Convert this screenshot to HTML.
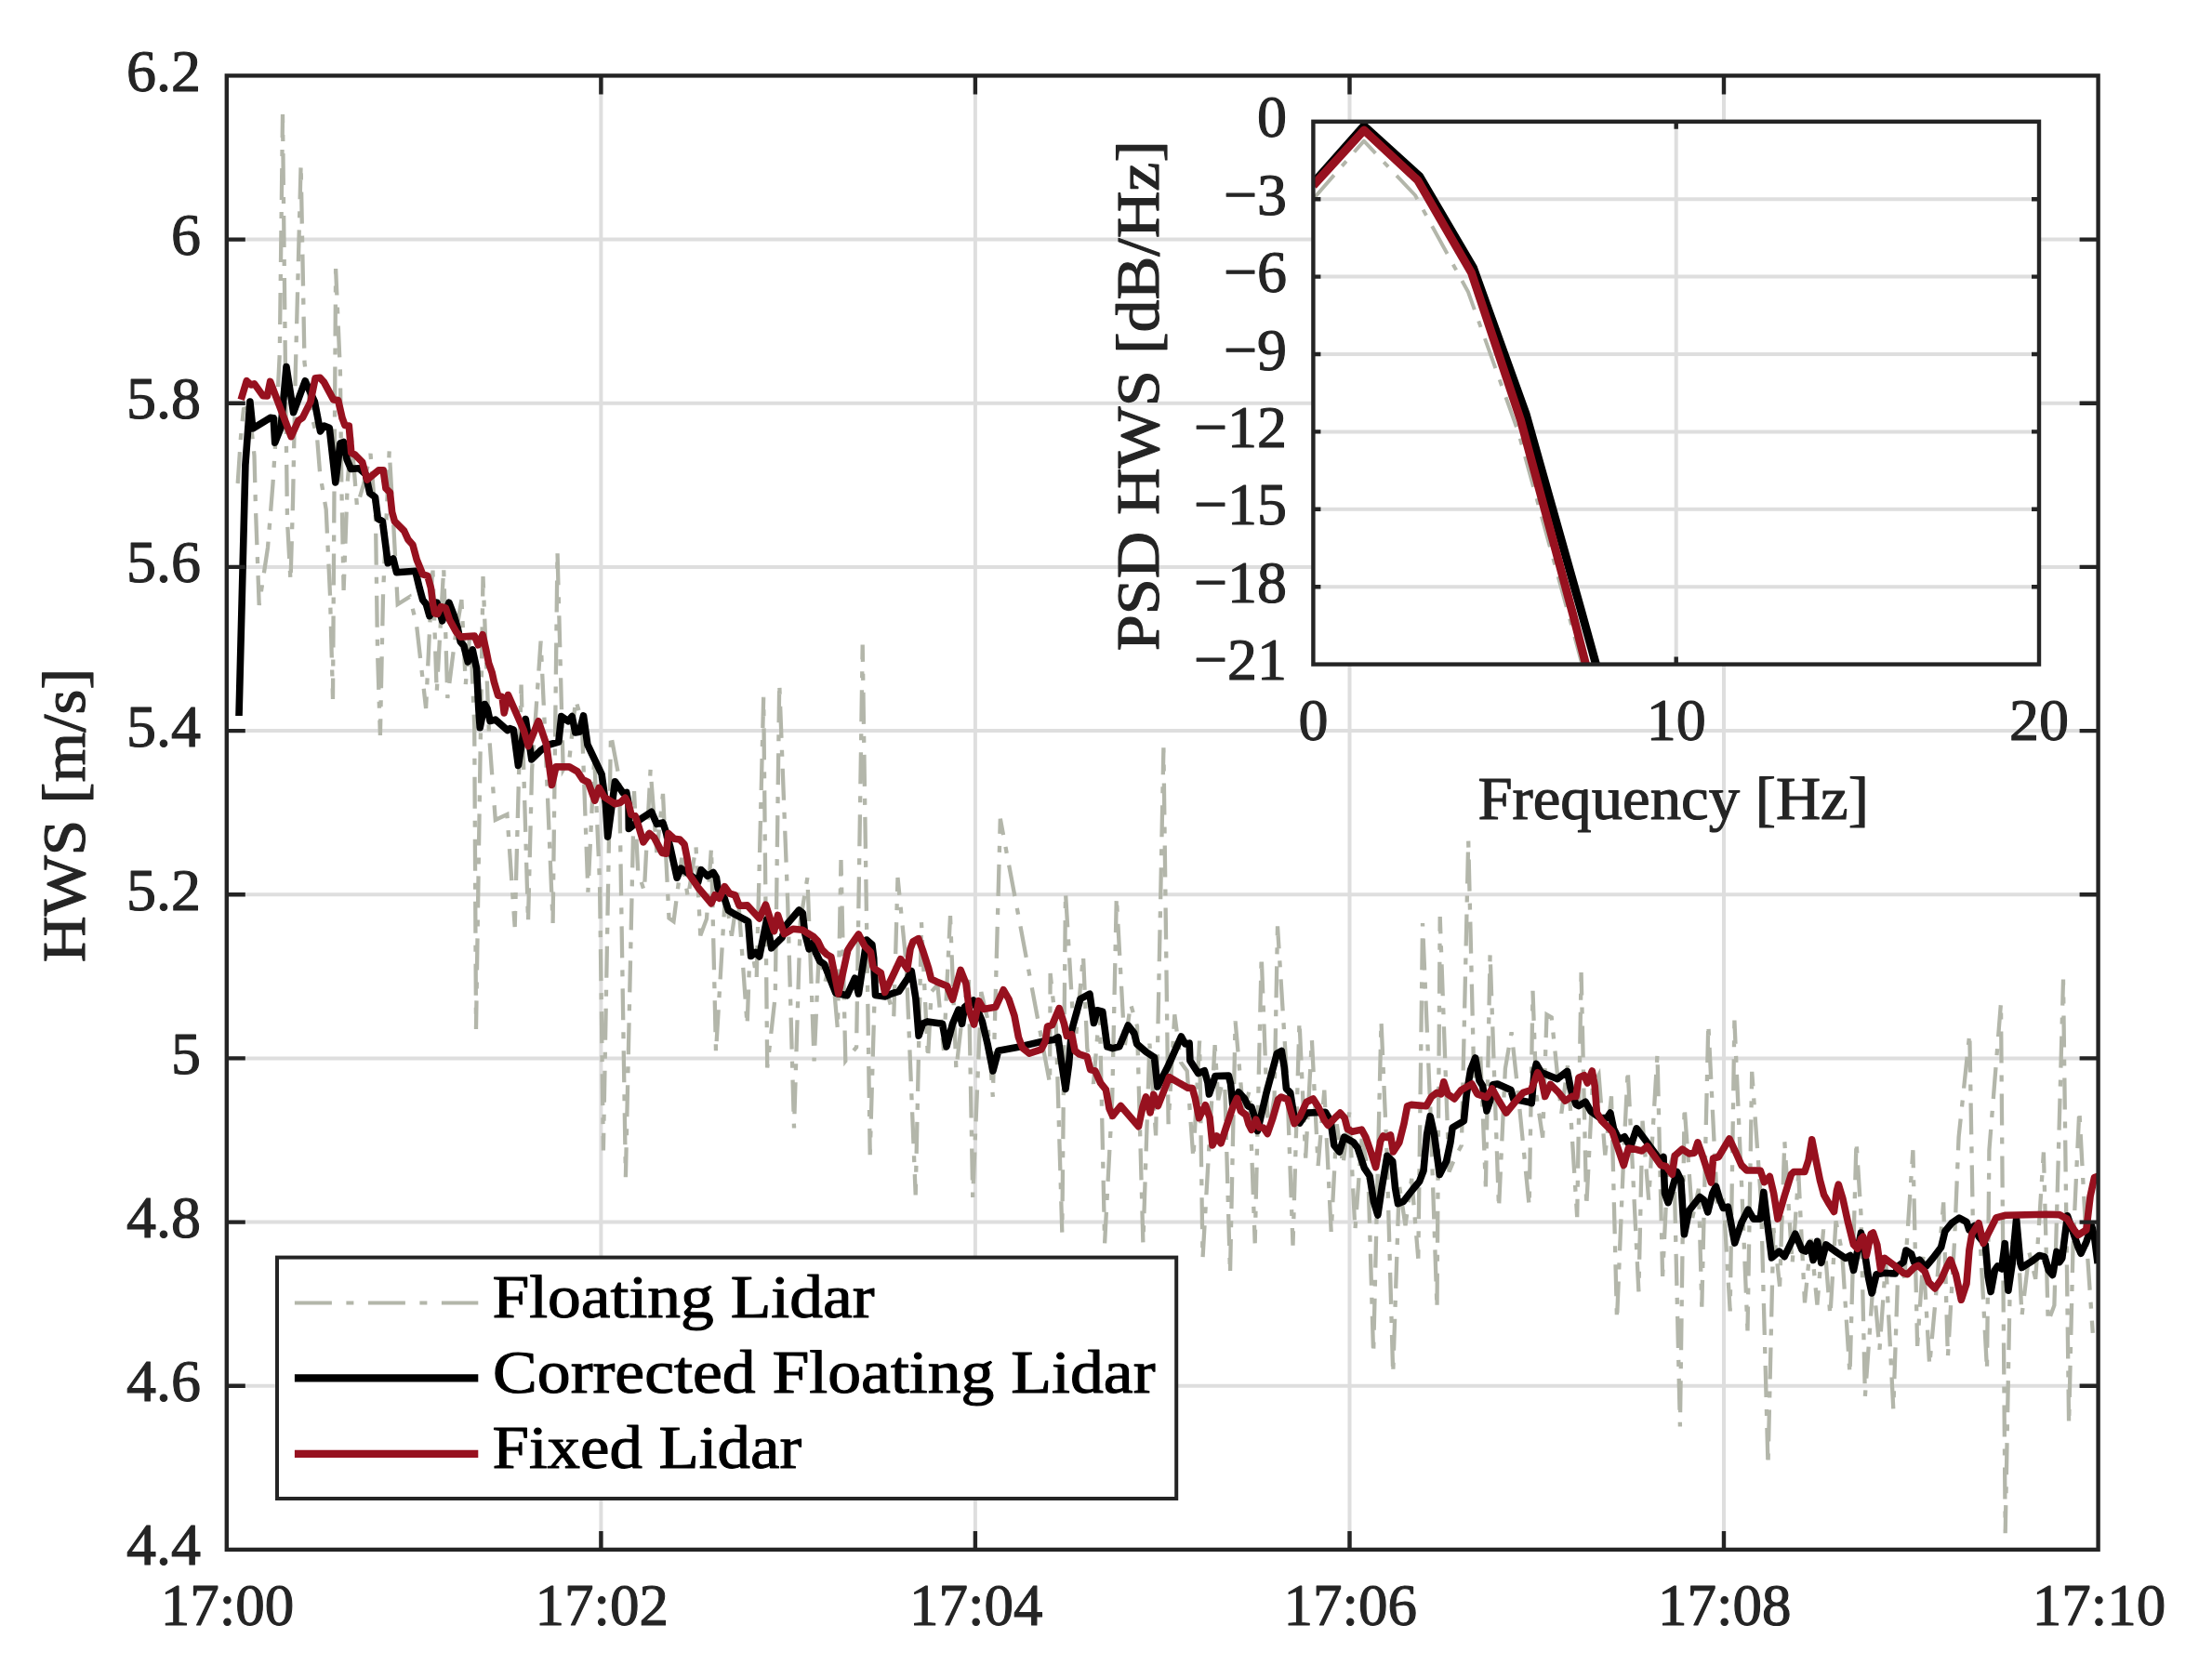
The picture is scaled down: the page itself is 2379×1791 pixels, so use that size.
<!DOCTYPE html>
<html lang="en"><head><meta charset="utf-8"><title>HWS time series</title>
<style>html,body{margin:0;padding:0;background:#fff}svg{display:block}text{font-family:"Liberation Serif",serif;stroke-width:1.1px;stroke-linejoin:round;paint-order:stroke fill}</style></head><body>
<svg width="2379" height="1791" viewBox="0 0 2379 1791">
<rect width="2379" height="1791" fill="#fff"/>
<path d="M646.4 81.4 V1666.9M1048.9 81.4 V1666.9M1451.5 81.4 V1666.9M1854.0 81.4 V1666.9M243.8 1490.7 H2256.6M243.8 1314.6 H2256.6M243.8 1138.4 H2256.6M243.8 962.2 H2256.6M243.8 786.1 H2256.6M243.8 609.9 H2256.6M243.8 433.7 H2256.6M243.8 257.6 H2256.6" stroke="#dedede" stroke-width="4" fill="none"/>
<defs><clipPath id="c1"><rect x="243.8" y="81.4" width="2012.8" height="1585.5"/></clipPath><clipPath id="c2"><rect x="1412.4" y="130.8" width="780.5999999999999" height="583.8"/></clipPath></defs>
<g clip-path="url(#c1)" fill="none" stroke-linejoin="round">
<path d="M255.7 520.0L259.0 470.0L262.0 440.0L268.0 438.0L273.5 490.0L275.0 548.0L278.7 651.0L288.0 589.0L293.5 520.0L296.0 480.0L300.8 380.0L304.0 123.0L307.3 430.0L309.0 560.0L312.5 625.0L315.0 540.0L317.8 400.0L323.6 177.0L327.5 390.0L334.7 445.0L341.0 470.0L344.2 510.0L350.7 548.0L355.0 640.0L358.0 752.0L360.0 450.0L361.1 289.0L365.9 400.0L367.3 520.0L369.6 635.0L373.8 518.0L378.0 470.0L384.0 545.0L391.0 521.0L398.5 488.0L404.0 557.0L406.0 700.0L408.9 791.0L412.0 640.0L418.7 485.0L423.0 560.0L427.7 650.0L440.7 642.0L448.0 672.0L452.3 710.0L458.1 762.0L465.3 608.0L469.7 745.0L477.2 611.0L481.3 751.0L489.0 690.0L496.4 645.0L500.8 736.0L505.8 676.0L510.2 780.0L512.0 1107.0L519.5 620.0L526.0 790.0L532.8 882.0L545.4 876.0L553.7 997.0L560.6 736.5L568.0 992.0L572.1 828.4L581.6 689.7L585.6 776.0L594.6 993.0L599.5 593.4L605.7 828.0L612.4 816.1L619.1 752.8L625.8 775.3L632.4 959.7L639.2 814.1L645.0 949.6L648.9 1237.4L657.0 790.0L666.1 838.3L672.9 1266.3L682.0 851.0L686.2 938.1L692.9 958.5L699.6 827.8L706.3 917.0L713.0 853.9L719.5 987.6L724.5 991.2L733.2 922.8L739.9 965.7L748.5 910.5L753.3 1006.3L760.0 988.4L765.0 912.0L770.0 1131.7L780.1 960.3L786.9 1006.8L793.6 960.2L803.6 1103.0L807.0 1009.4L813.7 1052.4L821.2 749.7L825.2 1148.5L833.8 1071.0L838.2 735.0L847.2 971.0L854.0 1213.4L860.7 991.5L868.4 944.0L875.6 1141.3L880.8 1023.7L887.5 1055.8L894.2 1030.4L900.9 1107.2L904.5 925.0L909.3 1141.3L921.1 1126.4L927.7 693.6L935.7 1242.2L941.2 1050.6L947.9 1057.1L954.6 1069.3L961.3 1093.1L965.5 944.0L974.7 1037.2L984.7 1285.5L991.0 992.0L998.0 1139.0L1001.6 1067.0L1008.3 1059.2L1015.0 1130.0L1022.0 985.0L1028.4 1150.3L1035.1 1091.1L1041.8 1054.0L1046.2 1287.9L1055.3 1067.1L1062.0 1095.4L1067.8 1179.8L1075.8 880.7L1129.1 1165.5L1129.6 1047.0L1135.8 1105.5L1142.3 1325.6L1146.0 960.3L1155.9 1127.9L1165.0 1028.0L1169.3 1127.5L1176.0 1165.8L1182.7 1084.7L1188.1 1337.3L1196.2 1182.6L1200.8 965.0L1209.6 1125.9L1216.0 1080.0L1223.0 1103.9L1229.4 1337.3L1236.4 1122.6L1243.1 1221.4L1251.4 804.4L1256.6 1209.1L1263.3 1091.3L1270.0 1142.7L1276.7 1152.1L1283.4 1246.2L1290.1 1119.5L1293.5 1353.7L1306.6 1124.2L1310.2 1183.3L1316.9 1154.3L1323.0 1370.0L1328.6 1098.4L1337.1 1196.1L1343.8 1172.9L1349.7 1337.3L1356.7 1028.2L1363.9 1221.1L1370.6 1180.2L1374.0 996.4L1384.0 1157.1L1390.5 1339.6L1397.5 1098.4L1404.2 1245.7L1410.9 1118.2L1417.6 1254.0L1424.3 1172.7L1431.7 1325.6L1437.7 1209.3L1444.4 1253.5L1451.1 1196.6L1457.4 1323.2L1464.6 1224.9L1471.3 1258.0L1477.1 1456.7L1485.5 1098.4L1491.4 1236.0L1498.2 1477.8L1504.8 1274.4L1511.5 1318.2L1518.2 1267.9L1525.3 1353.7L1530.0 993.0L1538.4 1194.5L1545.5 1407.5L1548.7 986.0L1558.5 1260.3L1565.2 1244.4L1571.9 1231.9L1579.2 904.1L1585.3 1160.6L1592.1 1133.0L1597.9 1276.4L1602.6 1025.9L1612.0 1299.8L1618.9 1149.5L1625.6 1110.3L1632.3 1171.9L1644.7 1297.5L1648.5 1065.7L1652.4 1178.4L1659.2 1223.7L1663.5 1091.4L1668.7 1094.3L1679.3 1197.6L1686.0 1146.3L1696.2 1309.2L1700.6 1046.1L1706.2 1298.1L1712.8 1168.5L1719.5 1156.1L1726.3 1242.6L1733.0 1179.3L1739.0 1419.8L1746.4 1239.3L1750.7 1150.5L1762.4 1389.4L1766.5 1205.7L1773.2 1290.5L1782.5 1134.1L1788.1 1373.0L1793.4 1262.2L1800.1 1240.9L1806.9 1534.5L1811.6 1190.3L1820.2 1310.1L1826.9 1278.8L1830.3 1405.8L1837.3 1101.4L1847.0 1298.7L1853.7 1292.8L1860.7 1410.4L1865.4 1097.6L1873.9 1293.1L1879.5 1431.5L1884.2 1152.9L1894.0 1291.7L1901.5 1576.7L1907.4 1321.0L1914.1 1383.7L1919.3 1227.8L1927.6 1359.7L1934.3 1263.0L1941.0 1401.4L1947.7 1332.7L1954.4 1403.6L1961.1 1322.4L1968.4 1415.1L1974.5 1313.3L1981.2 1347.2L1989.5 1478.3L1996.5 1227.8L2001.4 1305.1L2005.9 1501.8L2014.8 1376.6L2021.5 1451.7L2028.2 1356.5L2036.3 1515.8L2041.6 1356.8L2048.3 1374.4L2057.4 1237.2L2062.1 1447.9L2068.5 1351.3L2075.2 1468.8L2081.9 1395.3L2090.2 1293.4L2094.9 1459.6L2102.0 1335.9L2106.6 1223.1L2118.3 1111.7L2122.1 1330.5L2128.9 1319.7L2137.0 1473.7L2139.4 1237.2L2152.0 1078.9L2156.7 1649.3L2162.4 1347.5L2169.1 1310.6L2174.5 1415.1L2182.5 1347.4L2189.2 1375.8L2197.9 1239.5L2202.7 1422.0L2209.4 1404.2L2219.0 1053.6L2225.1 1532.2L2229.5 1341.1L2236.3 1194.1L2242.9 1318.6L2250.8 1433.9" stroke="#b3b6aa" stroke-width="4.3" stroke-dasharray="34 13 7 13" stroke-linejoin="miter"/>
<path d="M257.0 770.0L263.9 500.0L268.9 432.1L271.8 461.0L290.6 449.4L294.2 449.8L295.7 476.2L302.2 459.6L308.0 394.5L315.6 443.7L328.2 409.7L338.4 432.1L344.5 463.9L348.5 458.1L354.3 460.3L360.8 518.9L365.9 476.9L369.5 475.5L373.1 494.3L377.4 504.4L386.1 503.7L393.3 510.2L397.7 530.5L403.5 534.8L406.4 557.9L411.4 560.8L417.2 605.7L422.9 601.0L426.5 615.7L446.8 614.3L451.1 632.3L454.7 645.4L458.3 649.7L462.0 662.7L469.9 648.2L475.7 667.8L482.9 648.2L488.0 661.3L492.3 675.7L495.2 690.2L498.8 694.5L503.2 711.9L508.2 698.9L512.6 719.1L514.8 762.5L516.2 782.8L521.3 757.5L524.2 762.5L527.1 775.6L532.8 774.1L545.9 785.7L548.7 783.7L552.3 785.1L557.4 823.4L565.3 773.5L571.8 816.9L582.0 806.8L590.6 801.0L600.8 798.1L603.7 770.6L610.9 775.7L615.2 770.6L618.8 788.0L623.2 787.3L627.5 769.9L631.9 801.0L647.1 832.8L651.4 864.7L653.6 900.1L661.5 840.8L670.2 853.1L673.8 852.4L676.0 864.7L676.3 891.4L681.0 887.8L687.6 882.0L700.6 873.3L706.4 886.4L712.9 884.9L715.8 893.6L720.8 911.0L728.1 944.2L732.4 934.1L736.7 937.0L748.3 945.7L750.8 948.9L754.1 935.6L761.0 942.4L767.1 938.4L770.4 943.9L772.2 956.2L779.1 966.3L783.4 979.3L790.6 983.7L801.5 989.4L804.7 991.2L807.6 1028.5L812.3 1024.5L816.7 1028.9L824.6 989.4L829.7 1019.8L841.3 1008.2L844.9 995.9L859.3 979.0L863.3 982.2L865.5 1003.2L870.2 1020.9L874.5 1014.0L877.4 1024.9L881.8 1034.0L886.5 1037.1L898.8 1068.2L911.1 1070.8L919.4 1052.3L923.4 1069.0L929.2 1030.6L932.1 1011.1L937.9 1016.2L939.7 1030.6L940.2 1045.0L941.5 1070.4L952.3 1071.9L959.6 1068.6L966.8 1066.4L976.2 1052.3L980.2 1044.4L984.9 1074.0L988.1 1114.1L992.4 1101.1L997.5 1098.9L1013.6 1101.3L1018.0 1125.9L1024.5 1101.3L1031.0 1086.1L1034.6 1101.3L1037.5 1083.2L1046.9 1076.0L1056.3 1098.4L1062.1 1123.0L1067.9 1151.9L1073.7 1130.2L1096.8 1125.9L1121.4 1120.1L1133.0 1118.6L1138.0 1115.7L1140.9 1137.4L1146.0 1171.4L1149.6 1144.7L1152.5 1108.5L1161.9 1074.5L1172.0 1069.2L1176.4 1100.5L1180.0 1086.8L1185.8 1088.2L1190.8 1125.9L1196.6 1127.6L1203.8 1125.9L1213.3 1103.0L1219.8 1111.4L1222.7 1123.0L1232.8 1131.6L1241.5 1137.4L1244.9 1169.0L1255.9 1147.6L1270.4 1115.0L1274.7 1123.0L1279.1 1122.2L1279.9 1140.9L1288.8 1154.6L1295.4 1151.7L1299.0 1164.7L1300.4 1177.0L1305.5 1162.5L1306.9 1157.5L1321.4 1157.1L1323.6 1166.2L1325.7 1187.9L1332.2 1174.8L1338.7 1182.1L1342.4 1190.0L1346.0 1190.8L1349.6 1202.3L1352.5 1216.5L1361.7 1176.8L1373.3 1133.4L1378.3 1130.5L1381.2 1147.9L1383.4 1171.0L1387.7 1175.4L1392.1 1202.8L1397.9 1207.9L1405.1 1197.1L1425.4 1196.3L1431.1 1205.7L1434.8 1231.8L1440.5 1239.0L1445.6 1223.1L1455.7 1228.9L1460.1 1234.7L1467.3 1256.4L1473.1 1265.0L1477.4 1292.5L1481.8 1307.0L1486.1 1278.1L1491.9 1243.3L1497.7 1249.1L1500.6 1278.1L1503.5 1294.7L1509.3 1292.5L1519.4 1279.5L1526.6 1270.8L1531.0 1259.3L1534.6 1220.2L1538.2 1200.7L1542.5 1220.2L1548.3 1263.6L1555.6 1249.1L1559.9 1228.9L1562.1 1213.0L1574.4 1205.7L1577.3 1176.8L1581.6 1150.8L1586.7 1138.0L1591.0 1162.3L1594.6 1168.1L1599.0 1194.9L1602.6 1184.0L1605.5 1166.7L1610.5 1166.0L1625.0 1172.5L1627.9 1182.6L1636.6 1184.0L1643.8 1185.5L1647.2 1186.7L1650.1 1153.4L1652.3 1144.4L1657.4 1153.4L1674.7 1160.6L1685.6 1152.4L1689.2 1170.8L1695.0 1188.1L1697.9 1189.6L1705.1 1185.2L1710.9 1195.4L1721.0 1202.6L1728.2 1202.6L1731.9 1197.1L1735.5 1214.2L1741.3 1225.7L1747.1 1222.8L1751.4 1230.1L1754.3 1231.5L1760.1 1213.9L1770.2 1227.2L1786.1 1248.9L1789.0 1244.5L1790.5 1283.6L1794.1 1293.7L1799.1 1276.4L1803.5 1260.5L1807.8 1269.1L1811.4 1327.7L1816.5 1302.4L1828.1 1287.5L1832.4 1290.8L1836.7 1303.9L1841.8 1283.6L1845.4 1276.1L1849.8 1290.8L1853.4 1299.5L1858.4 1298.1L1865.7 1337.1L1872.9 1315.4L1880.1 1301.2L1885.9 1311.1L1893.2 1311.1L1896.8 1282.4L1900.4 1312.5L1905.5 1353.0L1913.4 1346.1L1919.2 1351.6L1930.8 1327.3L1938.0 1344.4L1942.0 1346.0L1946.5 1337.4L1950.1 1355.5L1954.5 1335.3L1958.8 1358.4L1963.9 1338.9L1976.2 1347.6L1984.8 1353.3L1989.9 1350.5L1993.5 1366.4L1997.9 1344.7L2001.5 1326.1L2005.1 1344.7L2009.4 1373.6L2013.1 1391.0L2018.1 1370.7L2026.8 1369.3L2038.4 1370.0L2041.3 1362.0L2047.1 1357.7L2049.9 1345.0L2055.7 1349.0L2058.6 1357.7L2064.4 1355.1L2068.8 1360.6L2071.6 1362.0L2078.9 1353.3L2087.6 1341.8L2091.9 1324.4L2099.1 1315.7L2107.1 1310.2L2115.0 1314.3L2117.9 1323.0L2123.7 1318.6L2128.1 1330.2L2135.3 1338.9L2138.2 1373.6L2141.1 1389.5L2145.4 1366.4L2148.3 1362.0L2152.7 1364.9L2156.3 1337.7L2159.9 1388.1L2164.2 1359.1L2168.6 1311.4L2172.9 1359.1L2174.4 1363.5L2185.9 1356.2L2193.2 1350.5L2199.0 1351.9L2203.3 1366.4L2207.6 1371.4L2212.0 1346.4L2214.9 1357.7L2217.8 1353.3L2223.5 1307.8L2229.3 1324.4L2235.1 1341.8L2238.0 1348.3L2243.8 1336.0L2249.6 1318.6L2252.5 1330.2L2256.1 1359.1" stroke="#000" stroke-width="7.6"/>
<path d="M259.2 429.9L265.3 409.7L270.0 414.0L273.6 412.9L282.7 425.6L287.4 425.9L290.6 410.4L313.1 469.7L321.0 452.3L325.4 449.4L334.0 432.1L339.1 406.8L344.2 406.4L348.5 411.1L358.6 429.9L363.7 430.6L368.0 449.4L370.9 457.4L375.3 458.1L377.8 487.1L381.8 489.2L389.7 497.2L394.8 516.0L407.1 505.9L412.2 505.9L415.0 525.4L419.4 529.7L421.6 550.7L424.4 560.8L434.6 571.0L438.9 580.4L443.9 586.0L448.2 602.0L454.7 617.9L459.8 619.3L463.4 632.3L465.6 649.7L467.7 659.8L470.6 660.5L474.3 652.6L479.3 654.0L483.7 667.1L490.9 680.1L495.2 685.1L510.4 684.1L514.3 693.8L519.1 682.7L522.7 698.9L525.6 713.3L529.2 723.5L531.4 733.6L535.7 748.1L540.1 749.5L542.2 766.9L546.5 747.5L563.1 785.1L568.2 802.5L579.1 775.7L587.7 801.0L593.5 844.4L597.9 824.9L612.3 824.9L621.0 829.9L626.8 838.6L632.6 841.5L639.8 861.1L644.2 847.3L649.9 857.4L661.5 864.7L667.3 863.2L672.4 858.2L676.0 864.7L678.9 876.2L683.2 877.7L686.1 886.4L691.9 905.9L698.4 896.5L703.5 900.8L712.2 917.5L716.5 918.2L718.9 896.5L725.2 902.3L731.0 903.0L736.0 908.1L738.9 922.5L741.8 941.3L750.8 954.7L765.0 971.7L768.9 962.7L773.6 966.3L779.4 953.6L784.8 961.2L790.6 963.0L795.0 974.2L803.7 973.9L816.7 988.0L823.5 973.2L832.6 1001.7L836.6 984.4L843.4 1004.6L852.8 999.2L863.0 1000.3L868.8 1003.9L874.5 1007.2L879.6 1012.5L884.0 1021.5L889.3 1026.8L893.9 1029.4L901.7 1069.0L911.8 1022.0L915.4 1016.2L923.4 1005.0L929.9 1017.6L936.4 1024.1L939.0 1040.0L941.8 1042.9L947.3 1046.5L951.6 1067.5L961.7 1046.5L968.6 1031.7L975.8 1042.2L979.1 1020.5L982.0 1012.9L987.8 1009.7L992.8 1023.4L998.6 1041.5L1001.5 1053.1L1007.3 1055.9L1018.7 1060.8L1024.5 1075.2L1033.1 1043.4L1038.9 1057.9L1042.5 1086.8L1047.6 1102.0L1052.7 1076.7L1057.7 1085.4L1070.8 1083.2L1079.2 1064.8L1085.2 1075.2L1091.0 1092.6L1095.4 1115.7L1099.7 1127.3L1106.9 1133.1L1119.9 1128.8L1124.3 1120.1L1126.5 1104.2L1131.5 1102.7L1139.2 1084.6L1144.5 1101.3L1147.4 1114.3L1152.5 1112.6L1156.1 1130.2L1160.5 1133.8L1169.1 1136.7L1172.7 1150.5L1177.8 1151.9L1183.6 1164.9L1189.4 1172.2L1193.0 1192.4L1196.6 1200.4L1205.3 1189.5L1224.5 1211.7L1228.8 1191.5L1232.4 1179.9L1237.1 1196.9L1240.7 1177.4L1245.4 1189.7L1251.2 1174.8L1257.4 1158.6L1267.9 1164.7L1277.3 1170.1L1282.3 1170.5L1285.2 1180.6L1289.6 1202.7L1296.4 1188.6L1301.1 1202.3L1304.0 1232.0L1308.7 1221.9L1313.1 1229.8L1318.5 1213.2L1325.7 1191.5L1330.4 1181.4L1334.4 1195.1L1340.2 1199.4L1343.1 1209.6L1346.0 1215.4L1350.8 1204.3L1354.5 1213.0L1358.8 1213.0L1363.1 1219.5L1368.9 1202.8L1374.7 1182.6L1377.9 1180.0L1384.8 1182.6L1389.2 1198.5L1392.1 1208.6L1397.9 1201.4L1405.1 1185.5L1412.3 1182.0L1418.1 1191.3L1423.9 1204.3L1428.2 1210.4L1435.5 1202.8L1441.3 1197.1L1446.3 1202.8L1449.2 1214.4L1454.3 1217.3L1464.4 1215.1L1468.8 1223.1L1475.3 1241.9L1479.6 1255.6L1484.7 1227.4L1487.6 1221.9L1491.2 1223.4L1495.5 1220.9L1498.4 1239.0L1504.9 1228.9L1510.0 1208.6L1513.6 1189.8L1517.9 1188.4L1533.9 1189.8L1539.6 1179.7L1545.4 1175.4L1549.8 1176.8L1552.7 1163.8L1557.0 1176.8L1564.2 1181.9L1571.5 1172.5L1583.0 1166.0L1588.8 1176.8L1599.0 1180.4L1604.7 1171.0L1612.0 1184.0L1619.9 1197.1L1629.3 1185.5L1638.0 1175.4L1646.7 1172.5L1653.7 1153.7L1658.1 1162.1L1661.7 1179.4L1667.5 1166.4L1676.2 1175.1L1683.4 1184.1L1690.6 1179.4L1695.0 1179.4L1697.9 1159.2L1703.7 1156.6L1707.3 1165.0L1712.3 1152.0L1715.2 1167.9L1717.4 1196.8L1722.5 1205.5L1734.0 1217.1L1739.8 1234.4L1746.3 1253.5L1751.4 1235.1L1760.1 1236.6L1765.9 1238.0L1771.6 1233.0L1778.9 1243.1L1786.1 1253.2L1791.9 1254.7L1798.4 1263.3L1801.3 1243.1L1809.3 1236.1L1816.5 1240.9L1822.3 1240.2L1825.9 1228.9L1831.0 1243.1L1840.4 1272.0L1842.5 1246.0L1848.3 1244.5L1859.9 1225.0L1867.1 1240.2L1872.9 1253.2L1878.7 1259.0L1893.2 1259.0L1897.5 1271.7L1903.3 1265.5L1907.6 1283.6L1912.0 1311.1L1919.2 1286.5L1926.4 1263.3L1929.3 1260.5L1940.9 1260.5L1945.1 1247.7L1948.7 1225.8L1953.0 1247.7L1957.4 1269.4L1961.7 1285.4L1967.5 1295.5L1972.5 1303.4L1975.4 1281.0L1977.3 1274.1L1982.0 1289.7L1987.7 1315.7L1993.5 1338.9L1997.9 1343.2L2001.5 1332.4L2003.7 1330.2L2007.3 1350.5L2012.3 1327.3L2014.5 1326.1L2018.8 1338.9L2022.5 1364.9L2026.8 1353.3L2038.4 1362.0L2047.1 1369.3L2051.4 1370.7L2058.6 1363.5L2063.0 1361.3L2070.2 1367.8L2074.5 1379.4L2081.0 1385.9L2087.6 1376.5L2093.3 1363.5L2097.7 1355.1L2103.5 1370.7L2109.3 1398.2L2115.0 1380.8L2117.9 1344.7L2120.8 1327.3L2128.1 1315.7L2133.1 1337.4L2139.6 1324.4L2146.9 1309.9L2157.0 1307.3L2200.4 1306.3L2214.9 1306.6L2223.5 1311.4L2230.8 1323.0L2235.1 1328.5L2243.8 1323.0L2248.1 1286.8L2252.5 1266.5L2256.8 1265.1" stroke="#97111f" stroke-width="7.6"/>
</g>
<path d="M646.4 1666.9 v-20M646.4 81.4 v20M1048.9 1666.9 v-20M1048.9 81.4 v20M1451.5 1666.9 v-20M1451.5 81.4 v20M1854.0 1666.9 v-20M1854.0 81.4 v20M243.8 1490.7 h20M2256.6 1490.7 h-20M243.8 1314.6 h20M2256.6 1314.6 h-20M243.8 1138.4 h20M2256.6 1138.4 h-20M243.8 962.2 h20M2256.6 962.2 h-20M243.8 786.1 h20M2256.6 786.1 h-20M243.8 609.9 h20M2256.6 609.9 h-20M243.8 433.7 h20M2256.6 433.7 h-20M243.8 257.6 h20M2256.6 257.6 h-20" stroke="#242424" stroke-width="4.4" fill="none"/>
<rect x="243.8" y="81.4" width="2012.8" height="1585.5" fill="none" stroke="#242424" stroke-width="4.4"/>
<text x="216" y="1683.4" font-size="64" text-anchor="end" fill="#242424" stroke="#242424">4.4</text>
<text x="216" y="1507.2" font-size="64" text-anchor="end" fill="#242424" stroke="#242424">4.6</text>
<text x="216" y="1331.1" font-size="64" text-anchor="end" fill="#242424" stroke="#242424">4.8</text>
<text x="216" y="1154.9" font-size="64" text-anchor="end" fill="#242424" stroke="#242424">5</text>
<text x="216" y="978.7" font-size="64" text-anchor="end" fill="#242424" stroke="#242424">5.2</text>
<text x="216" y="802.6" font-size="64" text-anchor="end" fill="#242424" stroke="#242424">5.4</text>
<text x="216" y="626.4" font-size="64" text-anchor="end" fill="#242424" stroke="#242424">5.6</text>
<text x="216" y="450.2" font-size="64" text-anchor="end" fill="#242424" stroke="#242424">5.8</text>
<text x="216" y="274.1" font-size="64" text-anchor="end" fill="#242424" stroke="#242424">6</text>
<text x="216" y="97.9" font-size="64" text-anchor="end" fill="#242424" stroke="#242424">6.2</text>
<text x="244.6" y="1748" font-size="64" text-anchor="middle" fill="#242424" stroke="#242424" textLength="143.5" lengthAdjust="spacingAndGlyphs">17:00</text>
<text x="647.2" y="1748" font-size="64" text-anchor="middle" fill="#242424" stroke="#242424" textLength="143.5" lengthAdjust="spacingAndGlyphs">17:02</text>
<text x="1049.7" y="1748" font-size="64" text-anchor="middle" fill="#242424" stroke="#242424" textLength="143.5" lengthAdjust="spacingAndGlyphs">17:04</text>
<text x="1452.3" y="1748" font-size="64" text-anchor="middle" fill="#242424" stroke="#242424" textLength="143.5" lengthAdjust="spacingAndGlyphs">17:06</text>
<text x="1854.8" y="1748" font-size="64" text-anchor="middle" fill="#242424" stroke="#242424" textLength="143.5" lengthAdjust="spacingAndGlyphs">17:08</text>
<text x="2257.4" y="1748" font-size="64" text-anchor="middle" fill="#242424" stroke="#242424" textLength="143.5" lengthAdjust="spacingAndGlyphs">17:10</text>
<text transform="translate(91 877) rotate(-90)" font-size="66" text-anchor="middle" fill="#242424" stroke="#242424" textLength="316.5" lengthAdjust="spacingAndGlyphs">HWS [m/s]</text>
<rect x="1412.4" y="130.8" width="780.5999999999999" height="583.8" fill="#fff"/>
<path d="M1802.7 130.8 V714.6M1412.4 214.2 H2193.0M1412.4 297.6 H2193.0M1412.4 381.0 H2193.0M1412.4 464.4 H2193.0M1412.4 547.8 H2193.0M1412.4 631.2 H2193.0" stroke="#dedede" stroke-width="4" fill="none"/>
<g clip-path="url(#c2)" fill="none" stroke-linejoin="round">
<path d="M1412.4 214.0L1466.9 151.6L1522.0 210.0L1579.0 314.0L1633.0 465.0L1690.0 672.0L1746.0 880.0" stroke="#b3b6aa" stroke-width="4" stroke-dasharray="34 13 7 13"/>
<path d="M1412.4 197.0L1467.0 135.5L1526.6 189.6L1584.5 288.0L1641.0 445.0L1700.0 655.0L1758.0 865.0" stroke="#000" stroke-width="9"/>
<path d="M1412.4 199.6L1467.0 140.0L1524.8 194.0L1582.6 293.6L1635.5 452.0L1692.0 662.0L1748.0 880.0" stroke="#97111f" stroke-width="9"/>
</g>
<path d="M1802.7 714.6 v-8M1802.7 130.8 v8M1412.4 214.2 h8M2193.0 214.2 h-8M1412.4 297.6 h8M2193.0 297.6 h-8M1412.4 381.0 h8M2193.0 381.0 h-8M1412.4 464.4 h8M2193.0 464.4 h-8M1412.4 547.8 h8M2193.0 547.8 h-8M1412.4 631.2 h8M2193.0 631.2 h-8" stroke="#242424" stroke-width="4.4" fill="none"/>
<rect x="1412.4" y="130.8" width="780.5999999999999" height="583.8" fill="none" stroke="#242424" stroke-width="4.4"/>
<text x="1384" y="147.3" font-size="64" text-anchor="end" fill="#242424" stroke="#242424">0</text>
<text x="1384" y="230.7" font-size="64" text-anchor="end" fill="#242424" stroke="#242424">−3</text>
<text x="1384" y="314.1" font-size="64" text-anchor="end" fill="#242424" stroke="#242424">−6</text>
<text x="1384" y="397.5" font-size="64" text-anchor="end" fill="#242424" stroke="#242424">−9</text>
<text x="1384" y="480.9" font-size="64" text-anchor="end" fill="#242424" stroke="#242424">−12</text>
<text x="1384" y="564.3" font-size="64" text-anchor="end" fill="#242424" stroke="#242424">−15</text>
<text x="1384" y="647.7" font-size="64" text-anchor="end" fill="#242424" stroke="#242424">−18</text>
<text x="1384" y="731.1" font-size="64" text-anchor="end" fill="#242424" stroke="#242424">−21</text>
<text x="1412.4" y="795.8" font-size="64" text-anchor="middle" fill="#242424" stroke="#242424">0</text>
<text x="1802.7" y="795.8" font-size="64" text-anchor="middle" fill="#242424" stroke="#242424">10</text>
<text x="2193.0" y="795.8" font-size="64" text-anchor="middle" fill="#242424" stroke="#242424">20</text>
<text x="1799.7" y="880.5" font-size="66" text-anchor="middle" fill="#242424" stroke="#242424" textLength="420.5" lengthAdjust="spacingAndGlyphs">Frequency [Hz]</text>
<text transform="translate(1246 425.7) rotate(-90)" font-size="66" text-anchor="middle" fill="#242424" stroke="#242424" textLength="549" lengthAdjust="spacingAndGlyphs">PSD HWS [dB/Hz]</text>
<rect x="298" y="1352.6" width="967.2" height="259.4000000000001" fill="#fff" stroke="#242424" stroke-width="4"/>
<path d="M316.9 1401.5H514.3" stroke="#b3b6aa" stroke-width="3.8" stroke-dasharray="40 15.5 8 15.5" fill="none"/>
<path d="M316.9 1482.4H514.3" stroke="#000" stroke-width="8.4" fill="none"/>
<path d="M316.9 1563.9H514.3" stroke="#97111f" stroke-width="8.4" fill="none"/>
<text x="529.5" y="1416.7" font-size="66" fill="#000" stroke="#000" textLength="411" lengthAdjust="spacingAndGlyphs">Floating Lidar</text>
<text x="530" y="1498.3" font-size="66" fill="#000" stroke="#000" textLength="712.5" lengthAdjust="spacingAndGlyphs">Corrected Floating Lidar</text>
<text x="529.5" y="1579" font-size="66" fill="#000" stroke="#000" textLength="332.5" lengthAdjust="spacingAndGlyphs">Fixed Lidar</text>
</svg></body></html>
